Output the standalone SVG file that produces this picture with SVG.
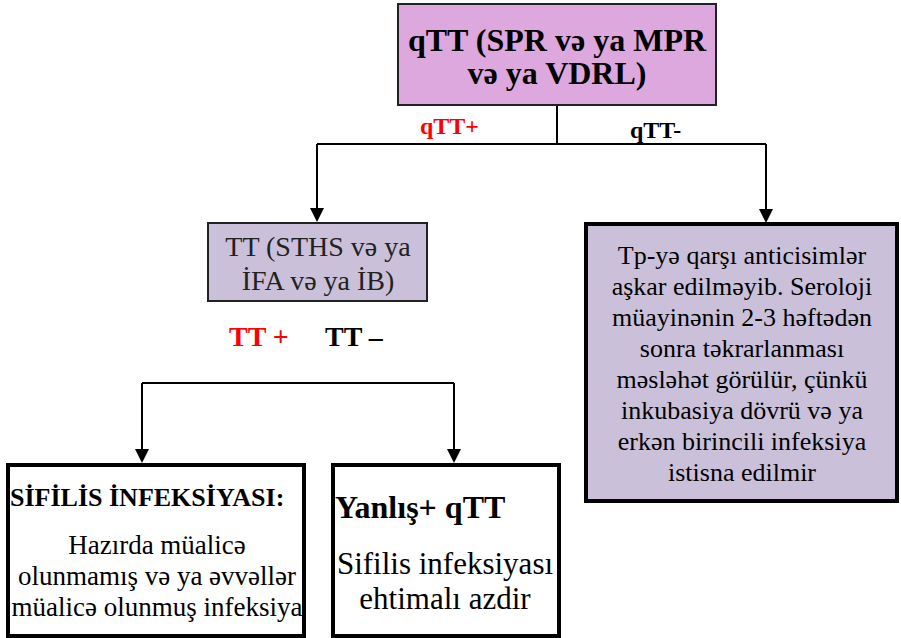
<svg xmlns="http://www.w3.org/2000/svg" width="901" height="638" viewBox="0 0 901 638">
<defs>
<style>
text{font-family:"Liberation Serif","Times New Roman",serif;}
.b{font-weight:bold;}
.c{text-anchor:middle;}
.ln{stroke:#000;stroke-width:2;fill:none;}
</style>
</defs>
<rect width="901" height="638" fill="#fff"/>
<g id="connectors">
<path class="ln" d="M557,105 V144 M317,144 H766 M142,383 H454"/>
<path class="ln" d="M317,144 V212"/>
<path d="M310,208 L324,208 L317,222 Z"/>
<path class="ln" d="M766,144 V212"/>
<path d="M759,209 L773,209 L766,223 Z"/>
<path class="ln" d="M142,383 V452"/>
<path d="M135,449 L149,449 L142,463 Z"/>
<path class="ln" d="M454,383 V452"/>
<path d="M447,449 L461,449 L454,463 Z"/>
</g>
<g id="n-qtt">
<rect x="398" y="4" width="318" height="101" fill="#dda8dd" stroke="#222" stroke-width="2"/>
<text class="b c" x="557" y="51" font-size="32">qTT (SPR və ya MPR</text>
<text class="b c" x="557" y="84" font-size="32">və ya VDRL)</text>
</g>
<g id="l-qtt-pos"><text class="b" x="420" y="134" font-size="24" fill="#f00">qTT+</text></g>
<g id="l-qtt-neg"><text class="b" x="630" y="138" font-size="24">qTT-</text></g>
<g id="n-tt">
<rect x="208" y="223" width="219" height="78" fill="#cbc0da" stroke="#222" stroke-width="2"/>
<text class="c" x="318" y="256" font-size="28" fill="#222">TT (STHS və ya</text>
<text class="c" x="318" y="290" font-size="28" fill="#222">İFA və ya İB)</text>
</g>
<g id="l-tt"><text class="b" x="229" y="346" font-size="28" fill="#f00">TT +</text><text class="b" x="325" y="346" font-size="28">TT –</text></g>
<g id="n-neg">
<rect x="586" y="224" width="311" height="277" fill="#cbc0da" stroke="#000" stroke-width="4"/>
<text class="c" x="742" y="264" font-size="26">Tp-yə qarşı anticisimlər</text>
<text class="c" x="742" y="295" font-size="26">aşkar edilməyib. Seroloji</text>
<text class="c" x="742" y="326" font-size="26">müayinənin 2-3 həftədən</text>
<text class="c" x="742" y="357" font-size="26">sonra təkrarlanması</text>
<text class="c" x="742" y="388" font-size="26">məsləhət görülür, çünkü</text>
<text class="c" x="742" y="419" font-size="26">inkubasiya dövrü və ya</text>
<text class="c" x="742" y="450" font-size="26">erkən birincili infeksiya</text>
<text class="c" x="742" y="481" font-size="26">istisna edilmir</text>
</g>
<g id="n-sif">
<rect x="8" y="465" width="296" height="171" fill="#fff" stroke="#000" stroke-width="4"/>
<text class="b" x="10" y="506" font-size="26">SİFİLİS İNFEKSİYASI:</text>
<text class="c" x="157" y="554" font-size="27">Hazırda müalicə</text>
<text class="c" x="157" y="585" font-size="27">olunmamış və ya əvvəllər</text>
<text class="c" x="157" y="616" font-size="27">müalicə olunmuş infeksiya</text>
</g>
<g id="n-false">
<rect x="333" y="465" width="226" height="171" fill="#fff" stroke="#000" stroke-width="4"/>
<text class="b" x="335" y="518" font-size="32">Yanlış+ qTT</text>
<text class="c" x="445" y="574" font-size="31">Sifilis infeksiyası</text>
<text class="c" x="445" y="609" font-size="31">ehtimalı azdir</text>
</g>
</svg>
